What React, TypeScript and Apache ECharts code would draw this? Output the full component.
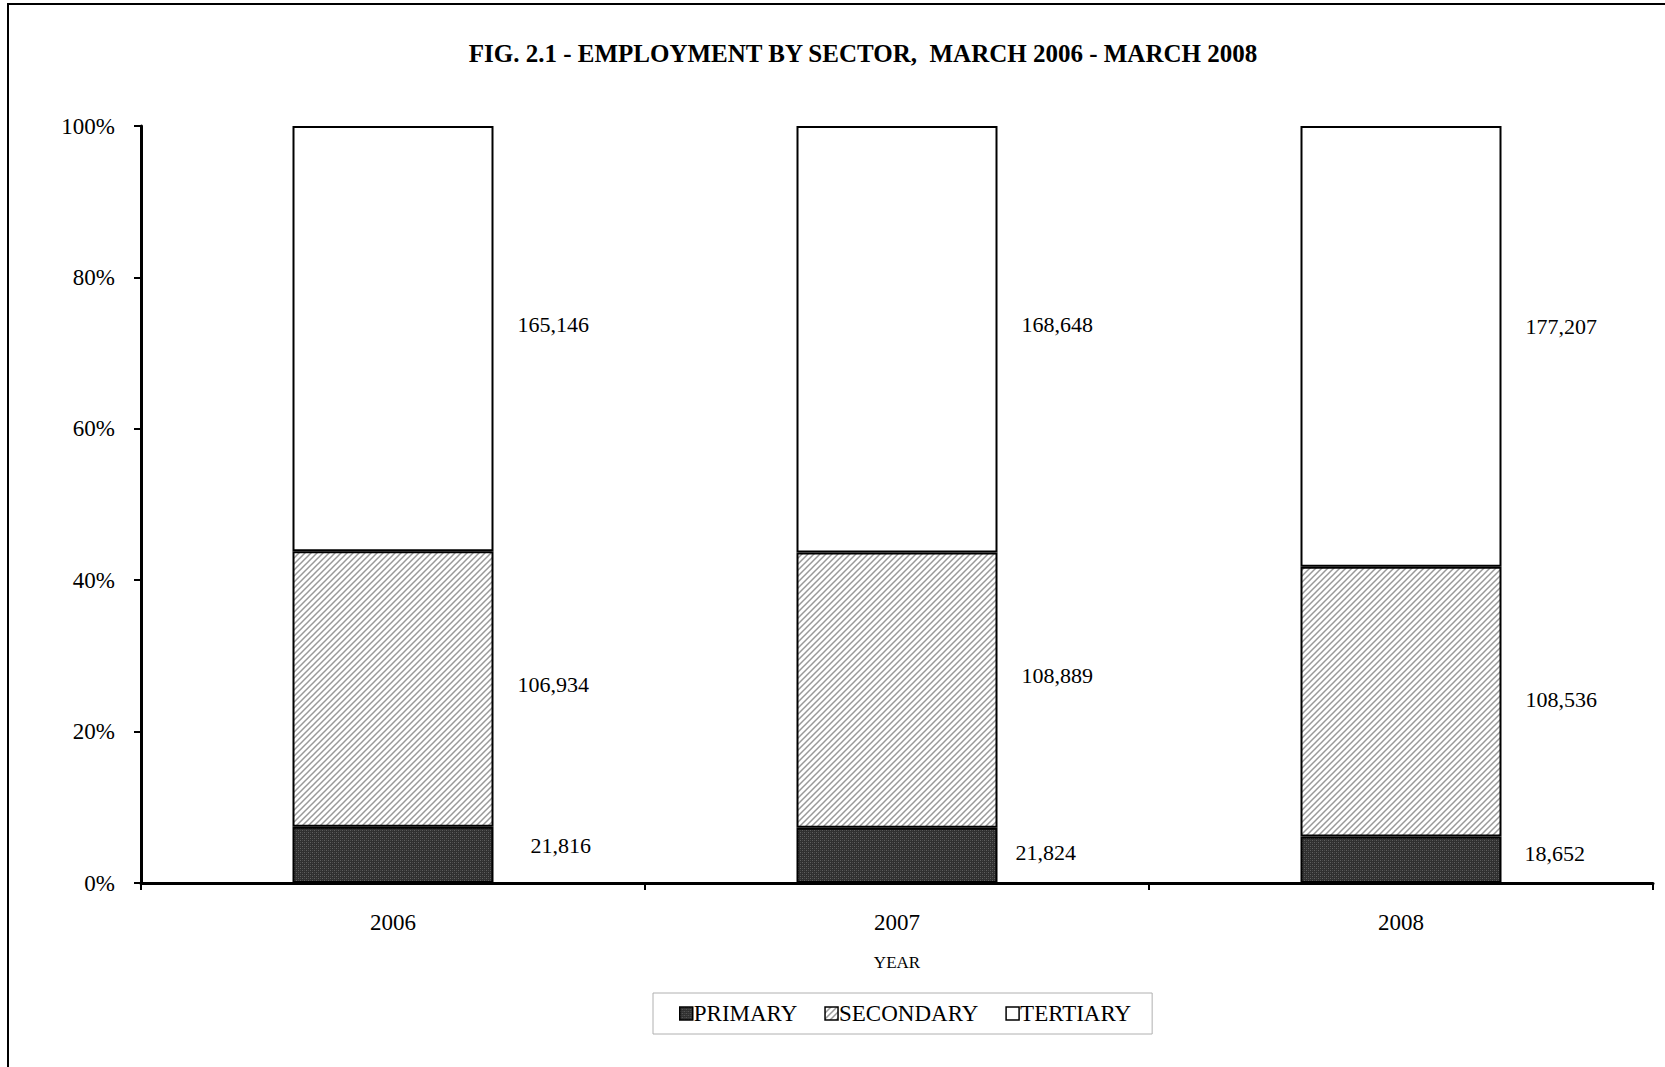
import React, { useEffect, useRef } from "react";
import * as echarts from "echarts";

const years = ["2006", "2007", "2008"];
const primary = [21816, 21824, 18652];
const secondary = [106934, 108889, 108536];
const tertiary = [165146, 168648, 177207];
const yTicks = [0, 20, 40, 60, 80, 100];

// label nudges [dx, dy] per year
const primaryNudge = [[13, -9], [-6, -3], [-1, -6]];
const secondaryNudge = [[0, -5], [0, -15], [0, -2]];
const tertiaryNudge = [[0, -14], [0, -15], [0, -20]];

function makePattern(kind: string) {
  const c = document.createElement("canvas");
  if (kind === "primary") {
    c.width = 4;
    c.height = 4;
    const g = c.getContext("2d")!;
    g.fillStyle = "#303030";
    g.fillRect(0, 0, 4, 4);
    g.fillStyle = "#606060";
    g.fillRect(0, 0, 1, 1);
    g.fillRect(2, 2, 1, 1);
    g.fillStyle = "#484848";
    g.fillRect(2, 0, 1, 1);
    g.fillRect(0, 2, 1, 1);
  } else {
    c.width = 6;
    c.height = 6;
    const g = c.getContext("2d")!;
    g.fillStyle = "#ffffff";
    g.fillRect(0, 0, 6, 6);
    g.strokeStyle = "#999999";
    g.lineWidth = 1.5;
    g.beginPath();
    g.moveTo(-1, 7);
    g.lineTo(7, -1);
    g.moveTo(-4, 4);
    g.lineTo(4, -4);
    g.moveTo(2, 10);
    g.lineTo(10, 2);
    g.stroke();
  }
  return c;
}

export default function App() {
  const ref = useRef<HTMLDivElement>(null);
  useEffect(() => {
    if (!ref.current) return;
    const chart = echarts.init(ref.current, undefined, { renderer: "svg" });
    const totals = years.map((_, i) => primary[i] + secondary[i] + tertiary[i]);
    const pct = (arr: number[]) => arr.map((v, i) => (v / totals[i]) * 100);
    const font = "Liberation Serif";
    const mk = (name: string, vals: number[], nudge: number[][], color: any) => ({
      name,
      type: "bar",
      stack: "s",
      barWidth: 201,
      itemStyle: { color, borderColor: "#000", borderWidth: 2 },
      label: {
        show: true,
        position: "right",
        distance: 24,
        fontFamily: font,
        fontSize: 22,
        color: "#000",
        formatter: (p: any) => vals[p.dataIndex].toLocaleString("en-US"),
      },
      data: pct(vals).map((v, i) => ({ value: v, label: { offset: nudge[i] } })),
    });
    const primImg = { image: makePattern("primary"), repeat: "repeat" };
    const secImg = { image: makePattern("secondary"), repeat: "repeat" };
    chart.setOption({
      animation: false,
      backgroundColor: "#fff",
      title: {
        text: "FIG. 2.1 - EMPLOYMENT BY SECTOR,  MARCH 2006 - MARCH 2008",
        left: 858,
        top: 36,
        textAlign: "center",
        textStyle: { fontFamily: font, fontSize: 25, fontWeight: "bold", color: "#000" },
      },
      graphic: [
        {
          type: "rect",
          shape: { x: 8, y: 4, width: 2000, height: 2000 },
          style: { fill: "none", stroke: "#000", lineWidth: 2 },
          silent: true,
        },
      ],
      legend: {
        left: 653,
        top: 993,
        padding: [9, 21, 9, 26],
        borderColor: "#b0b0b0",
        borderWidth: 1,
        icon: "rect",
        itemWidth: 13,
        itemHeight: 13,
        itemGap: 27,
        itemStyle: { borderColor: "#000", borderWidth: 1.5 },
        textStyle: { fontFamily: font, fontSize: 23, color: "#000", padding: [0, 0, 0, -4] },
        data: ["PRIMARY", "SECONDARY", "TERTIARY"],
      },
      grid: { left: 141, right: 12, top: 126, bottom: 184, containLabel: false },
      xAxis: {
        type: "category",
        data: years,
        name: "YEAR",
        nameLocation: "middle",
        nameGap: 71,
        nameTextStyle: { fontFamily: font, fontSize: 17, color: "#000" },
        axisLine: { lineStyle: { color: "#000", width: 3 } },
        axisTick: { show: true, length: 7, lineStyle: { color: "#000", width: 2 } },
        axisLabel: { fontFamily: font, fontSize: 23, color: "#000", margin: 28 },
      },
      yAxis: {
        type: "value",
        min: yTicks[0],
        max: yTicks[yTicks.length - 1],
        interval: 20,
        axisLine: { show: true, lineStyle: { color: "#000", width: 3 } },
        axisTick: { show: true, length: 7, lineStyle: { color: "#000", width: 2 } },
        splitLine: { show: false },
        axisLabel: { fontFamily: font, fontSize: 23, color: "#000", margin: 26, formatter: "{value}%" },
      },
      series: [
        mk("PRIMARY", primary, primaryNudge, primImg),
        mk("SECONDARY", secondary, secondaryNudge, secImg),
        mk("TERTIARY", tertiary, tertiaryNudge, "#ffffff"),
      ],
    });
    return () => chart.dispose();
  }, []);
  return (
    <div
      ref={ref}
      style={{ position: "fixed", left: 0, top: 0, width: 1665, height: 1067, background: "#fff" }}
    />
  );
}
